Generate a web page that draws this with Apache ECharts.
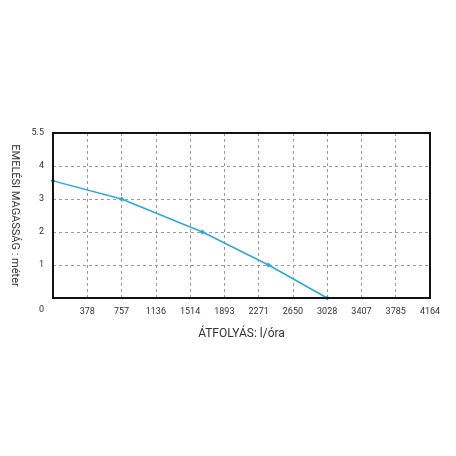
<!DOCTYPE html>
<html><head><meta charset="utf-8">
<script src="https://cdn.jsdelivr.net/npm/echarts@6/dist/echarts.min.js"></script>
<style>html,body{margin:0;background:#fff}#c{width:456px;height:456px}</style>
</head><body><div id="c"></div>
<script>
const xTicks = ['', '378', '757', '1136', '1514', '1893', '2271', '2650', '3028', '3407', '3785', '4164'];
const yTicks = { 0: '{z|0}', 1: '1', 2: '2', 3: '3', 4: '4', 5: '5.5' };
const flow = [0, 757, 1650, 2380, 3028];
const head = [3.55, 3.0, 2.0, 1.0, 0];

const step = 4164 / 11;
const chart = echarts.init(document.getElementById('c'));
chart.setOption({
  animation: false,
  grid: { left: 53, right: 26, top: 133, bottom: 158 },
  xAxis: {
    type: 'value', min: 0, max: 4164, interval: step,
    name: 'ÁTFOLYÁS: l/óra', nameLocation: 'middle', nameGap: 30,
    nameTextStyle: { fontFamily: 'Roboto', fontSize: 12, color: '#333' },
    axisLine: { show: false }, axisTick: { show: false },
    axisLabel: {
      fontFamily: 'Roboto', fontSize: 9, color: '#333', margin: 9, showMinLabel: true, showMaxLabel: true,
      formatter: v => xTicks[Math.round(v / step)]
    },
    splitLine: { lineStyle: { type: [3, 3], color: '#999', width: 1 } }
  },
  yAxis: {
    type: 'value', min: 0, max: 5, interval: 1,
    name: 'EMELÉSI MAGASSÁG : méter', nameLocation: 'middle', nameGap: 32, nameRotate: -90,
    nameTextStyle: { fontFamily: 'Roboto', fontSize: 11, color: '#333' },
    axisLine: { show: false }, axisTick: { show: false },
    axisLabel: {
      fontFamily: 'Roboto', fontSize: 9, color: '#333', margin: 9, formatter: v => yTicks[v],
      rich: { z: { fontFamily: 'Roboto', fontSize: 9, color: '#333', padding: [24, 0, 0, 0] } }
    },
    splitLine: { lineStyle: { type: [3, 3], color: '#999', width: 1 } }
  },
  graphic: [{
    type: 'rect', shape: { x: 53, y: 133, width: 377, height: 165 },
    style: { fill: 'none', stroke: '#111', lineWidth: 2 }, z: 10
  }],
  series: [{
    type: 'line', data: flow.map((x, i) => [x, head[i]]),
    symbol: 'diamond', symbolSize: 5,
    lineStyle: { color: '#2aa9dc', width: 1.5 },
    itemStyle: { color: '#2aa9dc' }
  }]
});
</script></body></html>
